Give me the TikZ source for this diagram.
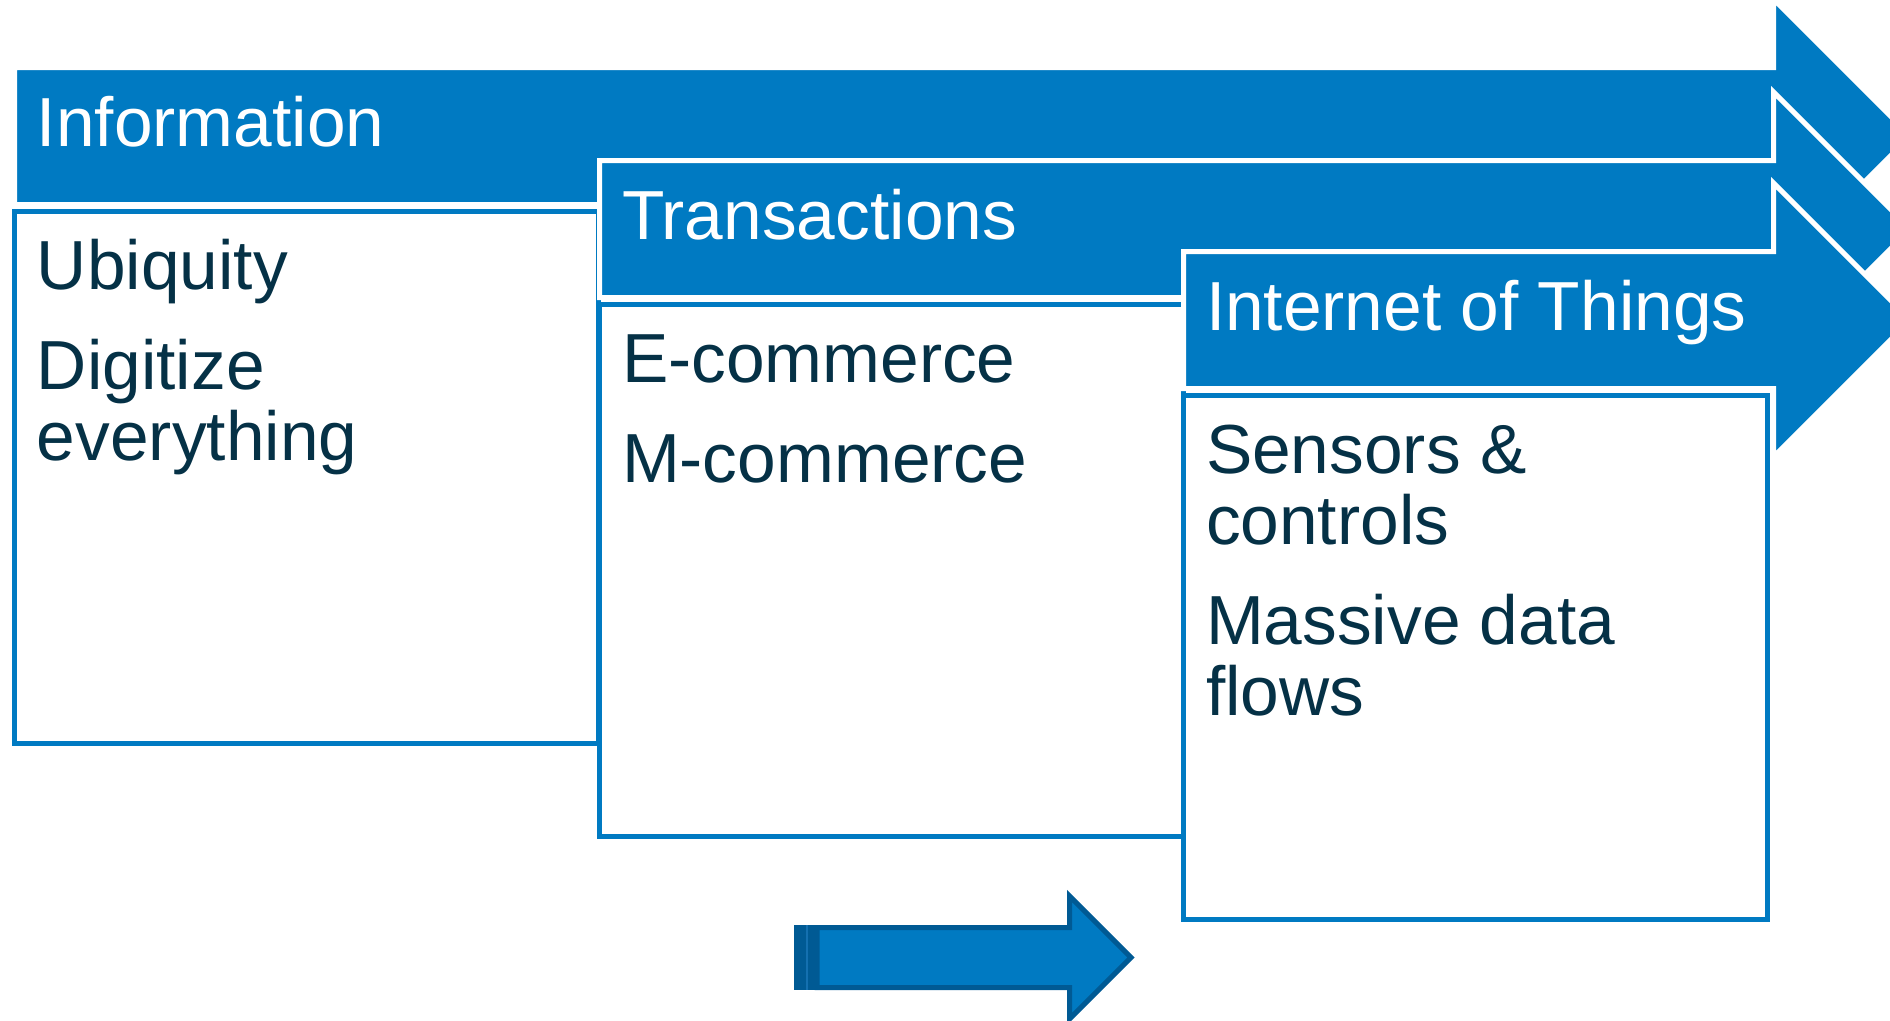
\documentclass[tikz,border=0pt]{standalone}
\usepackage{fontspec}
\setmainfont{Liberation Sans}
\definecolor{stageblue}{RGB}{0,122,194}
\definecolor{navytext}{RGB}{5,49,70}
\definecolor{edgeblue}{RGB}{0,90,148}
\definecolor{stripeblue}{RGB}{20,112,176}

\begin{document}
\begin{tikzpicture}[x=0.01cm, y=-0.01cm,
  every node/.style={inner sep=0, outer sep=0, font=\fontsize{19.75}{20.2}\selectfont},
  hdr/.style={anchor=base west, text=white},
  item/.style={anchor=base west, text=navytext, align=left},
  card/.style={draw=stageblue, fill=white, line width=0.05cm, anchor=north west, minimum width=5.84cm}]
\useasboundingbox (0,0) rectangle (1890,1020);
% stages: arrow, heading, card
\foreach \x/\y/\h/\name/\title in {14.5/136/5.32cm/info/Information, 599.5/229/5.32cm/trans/Transactions, 1183.5/320/5.24cm/iot/Internet of Things}{
  \filldraw[fill=stageblue, draw=white, line width=0.05cm] (\x,\y-68.5) -- (1773.5,\y-68.5) -- (1773.5,\y-137) -- (1910.5,\y) -- (1773.5,\y+137) -- (1773.5,\y+68.5) -- (\x,\y+68.5) -- cycle;
  \node[hdr] (hd-\name) at (\x+22.5,\y+10.5) {\title};
  \node[card, minimum height=\h] (card-\name) at (\x,\y+75.5) {};
}
% base of a two-line item is its last line
\node[item] (ubiquity) at ([shift={(22.5,78)}]card-info.north west) {Ubiquity};
\node[item] (digitize) at ([shift={(22.5,249)}]card-info.north west) {Digitize\\everything};
\node[item] (ecommerce) at ([shift={(22.5,78)}]card-trans.north west) {E-commerce};
\node[item] (mcommerce) at ([shift={(22.5,178)}]card-trans.north west) {M-commerce};
\node[item] (sensors) at ([shift={(22.5,149)}]card-iot.north west) {Sensors \&\\controls};
\node[item] (massive) at ([shift={(22.5,320)}]card-iot.north west) {Massive data\\flows};
% striped arrow at the bottom
\fill[edgeblue] (794,925) rectangle (818,990);
\draw[stripeblue, line width=0.015cm] (807,925) -- (807,990);
\filldraw[fill=stageblue, draw=edgeblue, line width=0.05cm] (817,927.5) -- (1069.5,927.5) -- (1069.5,896) -- (1131,957.5) -- (1069.5,1019) -- (1069.5,987.5) -- (817,987.5) -- cycle;
\end{tikzpicture}
\end{document}
